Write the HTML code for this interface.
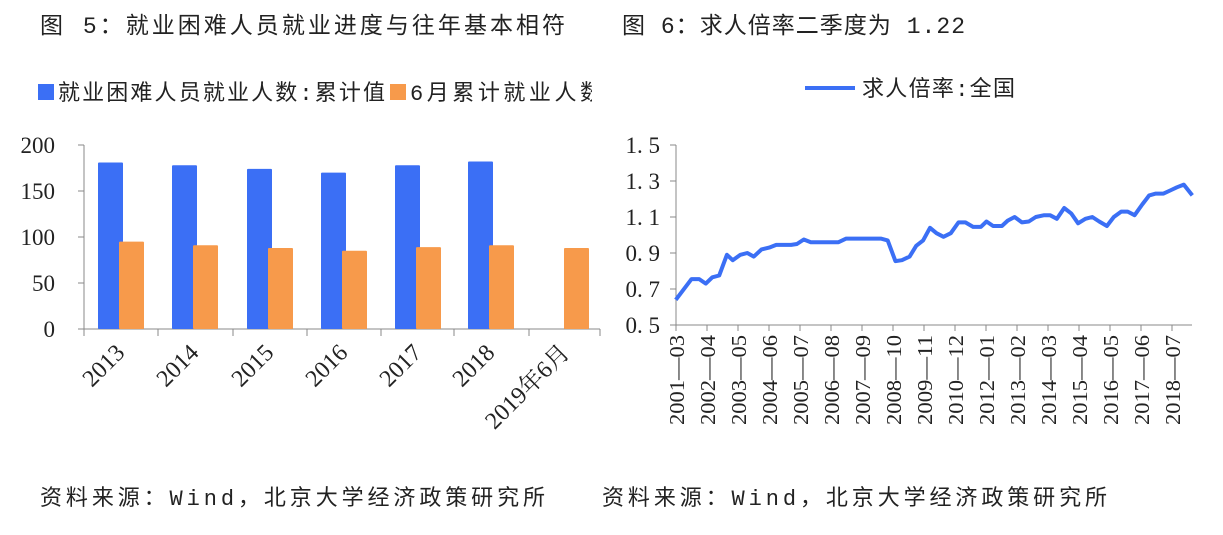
<!DOCTYPE html>
<html><head><meta charset="utf-8"><style>
body{margin:0;background:#fff;}
svg text{font-family:"Liberation Serif","Noto Serif CJK SC",serif;}
.cn{font-family:"Liberation Mono","Noto Sans CJK SC",sans-serif;}
</style></head><body>
<svg id="s" width="1223" height="530" xmlns="http://www.w3.org/2000/svg">
<text class="cn" x="40" y="33" font-size="23" fill="#222" textLength="525" lengthAdjust="spacing">图 5：就业困难人员就业进度与往年基本相符</text>
<text class="cn" x="622" y="33" font-size="23" fill="#222" textLength="343" lengthAdjust="spacing">图 6：求人倍率二季度为 1.22</text>
<rect x="38" y="84" width="16" height="16" fill="#3b6ff5"/>
<text class="cn" x="58" y="100" font-size="22" fill="#222" textLength="327" lengthAdjust="spacing">就业困难人员就业人数:累计值</text>
<rect x="390" y="84" width="16" height="16" fill="#f79a4b"/>
<svg x="0" y="70" width="592" height="40"><text class="cn" x="410" y="30" font-size="22" fill="#222" textLength="192" lengthAdjust="spacing">6月累计就业人数</text></svg>
<line x1="805" y1="88" x2="855" y2="88" stroke="#3b6ff5" stroke-width="4"/>
<text class="cn" x="862" y="96" font-size="22" fill="#222" textLength="153" lengthAdjust="spacing">求人倍率:全国</text>
<g id="left"></g><g id="right"></g>
<text class="cn" x="40" y="505" font-size="22" fill="#222" textLength="505" lengthAdjust="spacing">资料来源：Wind，北京大学经济政策研究所</text>
<text class="cn" x="602" y="505" font-size="22" fill="#222" textLength="505" lengthAdjust="spacing">资料来源：Wind，北京大学经济政策研究所</text>
</svg>
<script>
var NS="http://www.w3.org/2000/svg";
function el(p,t,a,txt){var e=document.createElementNS(NS,t);for(var k in a)e.setAttribute(k,a[k]);if(txt!=null)e.textContent=txt;p.appendChild(e);return e;}
var L=document.getElementById('left');
var y0=329,y200=145,sc=(y0-y200)/200;
el(L,'line',{x1:84,y1:145,x2:84,y2:336,stroke:'#888'});
el(L,'line',{x1:78,y1:y0,x2:600,y2:y0,stroke:'#888'});
[0,50,100,150,200].forEach(function(v){var y=y0-v*sc;el(L,'line',{x1:78,y1:y,x2:84,y2:y,stroke:'#888'});el(L,'text',{x:55,y:y+8,'font-size':23,'text-anchor':'end',fill:'#222'},v);});
var ticks=[84,158,233,307,381,454,529];
var blue=[181,178,174,170,178,182,null],org=[95,91,88,85,89,91,88];
var labs=['2013','2014','2015','2016','2017','2018','2019年6月'];
for(var i=0;i<7;i++){var t=ticks[i];
 if(i>0)el(L,'line',{x1:t,y1:y0,x2:t,y2:y0+7,stroke:'#888'});
 if(blue[i])el(L,'rect',{x:t+14,y:y0-blue[i]*sc,width:25,height:blue[i]*sc,fill:'#3b6ff5',rx:1});
 el(L,'rect',{x:t+35,y:y0-org[i]*sc,width:25,height:org[i]*sc,fill:'#f79a4b',rx:1});
 var cx=t+42,cy=354;
 el(L,'text',{x:cx,y:cy,'font-size':24,'text-anchor':'end',fill:'#222',transform:'rotate(-45 '+cx+' '+cy+')'},labs[i]);
}
el(L,'line',{x1:600,y1:y0,x2:600,y2:y0+7,stroke:'#888'});
var R=document.getElementById('right');
var ax=676,ry=function(v){return 145+(1.5-v)*180;};
el(R,'line',{x1:ax,y1:145,x2:ax,y2:325,stroke:'#888'});
el(R,'line',{x1:ax,y1:325,x2:1192,y2:325,stroke:'#888'});
[0.5,0.7,0.9,1.1,1.3,1.5].forEach(function(v){var y=ry(v);el(R,'line',{x1:670,y1:y,x2:ax,y2:y,stroke:'#888'});el(R,'text',{x:660,y:y+8,'font-size':23,'text-anchor':'end',fill:'#222'},v.toFixed(1).replace('.','. '));});
var rl=['2001-03','2002-04','2003-05','2004-06','2005-07','2006-08','2007-09','2008-10','2009-11','2010-12','2012-01','2013-02','2014-03','2015-04','2016-05','2017-06','2018-07'];
for(var i=0;i<rl.length;i++){var x=ax+i*31;el(R,'line',{x1:x,y1:325,x2:x,y2:331,stroke:'#888'});
 el(R,'text',{x:x+8,y:335,'font-size':21,'text-anchor':'end',fill:'#222',textLength:90,lengthAdjust:'spacingAndGlyphs',transform:'rotate(-90 '+(x+8)+' 335)','font-family':'Liberation Sans, sans-serif'},rl[i].replace('-','—'));}
var d=[[197,.64],[238,.755],[258,.755],[275,.73],[292,.765],[310,.775],[330,.89],[345,.86],[365,.89],[383,.9],[400,.88],[420,.92],[440,.93],[458,.945],[497,.945],[512,.95],[530,.975],[548,.96],[620,.96],[640,.98],[730,.98],[748,.97],[768,.855],[785,.86],[805,.88],[822,.94],[840,.97],[858,1.04],[875,1.01],[893,.99],[912,1.01],[932,1.07],[950,1.07],[970,1.045],[990,1.045],[1005,1.075],[1022,1.05],[1045,1.05],[1060,1.08],[1078,1.1],[1097,1.07],[1115,1.075],[1133,1.1],[1155,1.11],[1170,1.11],[1188,1.09],[1207,1.15],[1225,1.12],[1243,1.065],[1262,1.09],[1280,1.1],[1298,1.075],[1318,1.05],[1336,1.1],[1355,1.13],[1372,1.13],[1390,1.11],[1410,1.17],[1428,1.22],[1445,1.23],[1465,1.23],[1485,1.25],[1500,1.265],[1518,1.28],[1540,1.22]];
el(R,'polyline',{points:d.map(function(p){return (600+p[0]/2.6).toFixed(1)+','+ry(p[1]).toFixed(1);}).join(' '),fill:'none',stroke:'#3b6ff5','stroke-width':4,'stroke-linejoin':'round'});
</script>
</body></html>
